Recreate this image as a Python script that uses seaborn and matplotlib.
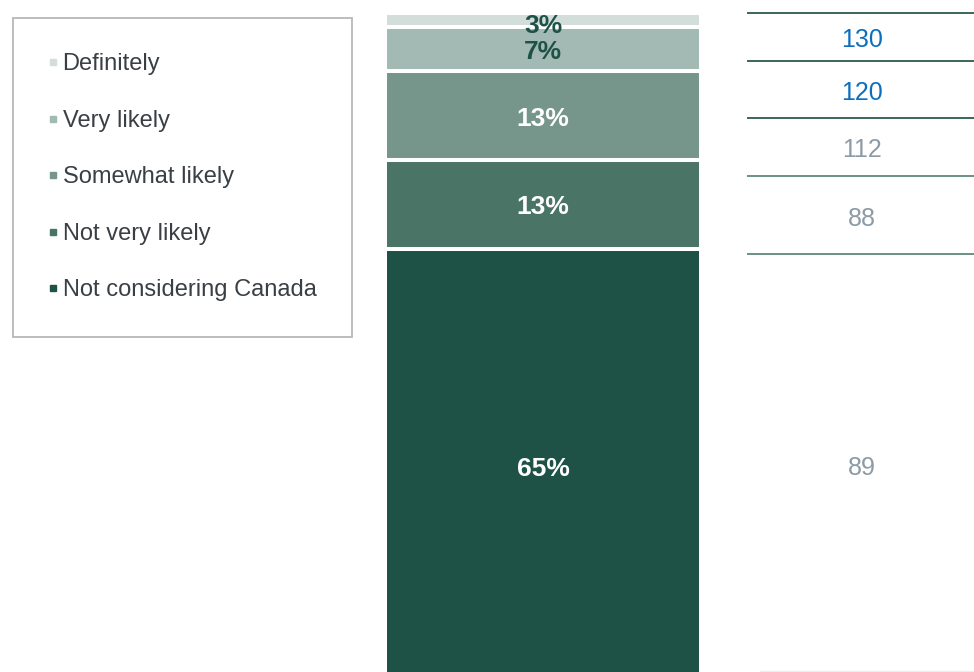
import matplotlib
matplotlib.use("Agg")
import matplotlib.pyplot as plt
from matplotlib.lines import Line2D
import seaborn as sns
import pandas as pd
import numpy as np

# ---- data ----
categories = ["Not considering Canada", "Not very likely", "Somewhat likely", "Very likely", "Definitely"]
shares = [64.7, 13.3, 13.2, 6.6, 2.2]               # bar heights as drawn (%)
share_labels = ["65%", "13%", "13%", "7%", "3%"]     # labels shown on the bar
seg_colors = ["#1e5246", "#4a7466", "#76968c", "#a3b9b3", "#d3dedb"]
label_colors = ["white", "white", "white", "#1e5246", "#1e5246"]
table_values = [130, 120, 112, 88, 89]          # top to bottom
table_colors = ["#0b6fbf", "#0b6fbf", "#8c9ba6", "#8c9ba6", "#8c9ba6"]

sns.set_theme(style="white")
plt.rcParams["font.family"] = ["Liberation Sans", "DejaVu Sans"]

W, H = 974, 672
fig = plt.figure(figsize=(W / 100, H / 100), dpi=100)

# ---- stacked bar (drawn as overlaid cumulative bars) ----
ax = fig.add_axes([0, 0, 1, 1])
cum = np.cumsum(shares)
total = cum[-1]
bar_bottom_px = 682   # bar runs slightly past the bottom edge
bar_top_px = 12.5
px_per_unit = (bar_bottom_px - bar_top_px) / total
bar_w = 0.8
px_per_x = 316 / bar_w
cx = 543
ax_xlim = (-cx / px_per_x, (W - cx) / px_per_x)

df = pd.DataFrame({"group": ["All"] * len(shares), "cum": cum, "cat": categories})
for i in range(len(shares) - 1, -1, -1):
    sns.barplot(data=df.iloc[[i]], x="group", y="cum", color=seg_colors[i],
                width=bar_w, edgecolor="white", linewidth=2.9, saturation=1,
                errorbar=None, ax=ax)

bottoms = np.concatenate([[0], cum[:-1]])
label_shift_px = [3.5, 3.0, 3.0, 2.5, 6.5]
for i, (b, s) in enumerate(zip(bottoms, shares)):
    ymid = b + s / 2 - label_shift_px[i] / px_per_unit
    ax.text(0, ymid, share_labels[i], ha="center", va="center", fontsize=19,
            fontweight="bold", color=label_colors[i])

ax.set_xlim(*ax_xlim)
ax.set_ylim((bar_bottom_px - H) / px_per_unit, total + bar_top_px / px_per_unit)
ax.axis("off")

# ---- right-side table ----
axt = fig.add_axes([0, 0, 1, 1], facecolor="none")
axt.set_xlim(0, W)
axt.set_ylim(H, 0)
axt.axis("off")
line_ys = [13, 61, 118, 176, 254]
line_cols = ["#2c5b4d", "#2c5b4d", "#2c5b4d", "#5f897b", "#5f897b"]
for y, c in zip(line_ys, line_cols):
    axt.plot([747, W], [y, y], color=c, lw=1.3, solid_capstyle="butt")
axt.plot([760, W], [670.5, 670.5], color="#eeeeee", lw=1)
text_ys = [40, 93, 150, 219, 468]
for v, y, c in zip(table_values, text_ys, table_colors):
    axt.text(862, y, str(v), ha="center", va="center", fontsize=18, color=c)

# ---- legend ----
handles = [Line2D([0], [0], marker="s", linestyle="none", markersize=5,
                  markerfacecolor=seg_colors[i], markeredgecolor=seg_colors[i])
           for i in range(len(categories) - 1, -1, -1)]
labels = [categories[i] for i in range(len(categories) - 1, -1, -1)]
leg = fig.legend(handles, labels, loc="upper left",
                 bbox_to_anchor=(13 / W, 1 - 18 / H), fontsize=17,
                 frameon=True, fancybox=False, edgecolor="#a6a6a6",
                 borderpad=1.5, labelspacing=1.46, handlelength=0.4,
                 handletextpad=0.2, borderaxespad=0)
leg.get_frame().set_linewidth(1.3)
for t in leg.get_texts():
    t.set_color("#3a3f44")

fig.savefig("out.png", dpi=100)
